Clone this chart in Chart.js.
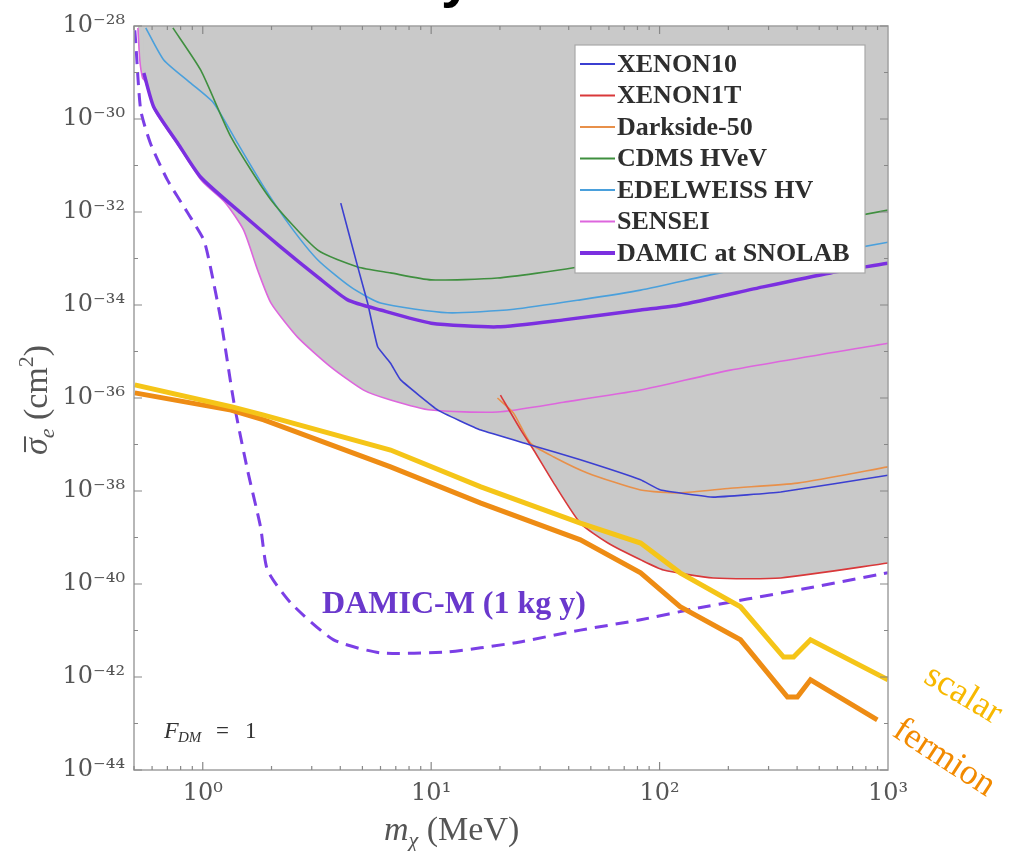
<!DOCTYPE html>
<html>
<head>
<meta charset="utf-8">
<script src="https://cdn.jsdelivr.net/npm/chart.js@4.4.1/dist/chart.umd.min.js"></script>
<style>
html,body{margin:0;padding:0;background:#fff;}
#wrap{position:relative;width:1009px;height:851px;}
</style>
</head>
<body>
<div id="wrap"><canvas id="c" width="1009" height="851"></canvas></div>
<script>
// --- data: dark matter mass (MeV) vs cross section (cm^2) ---
const xTicks = [1, 10, 100, 1000];
const yTicks = [1e-44, 1e-42, 1e-40, 1e-38, 1e-36, 1e-34, 1e-32, 1e-30, 1e-28];

const xenon10M = [4.02, 4.77, 5.27, 5.83, 6.64, 7.35, 10.7, 16.5, 27.2, 45, 82.6, 101, 172, 339, 1000];
const xenon10S = [1.55e-32, 6.6e-34, 1.1e-34, 1.26e-35, 5.6e-36, 2.45e-36, 5.5e-37, 2.04e-37, 9.8e-38, 4.68e-38, 1.74e-38, 1.05e-38, 7.4e-39, 9.5e-39, 2.19e-38];

const xenon1tM = [20.1, 24.7, 28.1, 34.4, 45, 59.4, 82.6, 104, 172, 339, 1000];
const xenon1tS = [1.15e-36, 2.04e-37, 7.6e-38, 1.48e-38, 2.04e-39, 7.6e-40, 3.31e-40, 2.0e-40, 1.35e-40, 1.35e-40, 2.82e-40];

const darksideM = [19.5, 22.9, 27.2, 34.4, 48.3, 82.6, 123, 204, 401, 1000];
const darksideS = [1.0e-36, 4.79e-37, 1.07e-37, 5.4e-38, 2.45e-38, 1.05e-38, 9.1e-39, 1.15e-38, 1.48e-38, 3.31e-38];

const cdmsM = [0.74, 0.98, 1.33, 1.99, 3.19, 4.77, 6.64, 10, 19.5, 42, 151, 1000];
const cdmsS = [9.1e-29, 1.12e-29, 4.07e-31, 1.82e-32, 1.51e-33, 6.6e-34, 4.9e-34, 3.47e-34, 3.8e-34, 6.3e-34, 1.95e-33, 1.1e-32];

const edelM = [0.563, 0.675, 0.886, 1.117, 1.42, 1.85, 2.43, 3.19, 4.44, 6.0, 11.8, 23, 45, 82.6, 184, 414, 1000];
const edelS = [9.1e-29, 1.86e-29, 5.9e-30, 2.19e-30, 3.02e-31, 3.47e-32, 4.79e-33, 9.3e-34, 2.45e-34, 1.1e-34, 6.8e-35, 8.1e-35, 1.29e-34, 2.09e-34, 4.9e-34, 1.02e-33, 2.24e-33];

const senseiM = [0.52, 0.53, 0.545, 0.56, 0.62, 0.79, 0.99, 1.26, 1.51, 1.74, 1.99, 2.60, 3.63, 5.06, 6.64, 10, 19.5, 38, 82.6, 204, 1000];
const senseiS = [9.1e-29, 1.86e-29, 7.6e-30, 6.5e-30, 1.45e-30, 2.5e-31, 4.7e-32, 1.55e-32, 4.07e-33, 5.6e-34, 1.1e-34, 2.04e-35, 4.68e-36, 1.48e-36, 9.1e-37, 5.5e-37, 5.0e-37, 8.1e-37, 1.48e-36, 3.98e-36, 1.51e-35];

const snolabM = [0.552, 0.61, 0.777, 0.98, 1.47, 2.19, 3.19, 4.31, 6.0, 10, 19.5, 38, 82.6, 123, 284, 560, 1000];
const snolabS = [9.8e-30, 1.82e-30, 3.02e-31, 5.6e-32, 9.5e-33, 1.78e-33, 3.98e-34, 1.29e-34, 7.8e-35, 4.07e-35, 3.39e-35, 4.79e-35, 7.8e-35, 1.0e-34, 2.45e-34, 4.9e-34, 7.9e-34];

const damicmM = [0.504, 0.509, 0.535, 0.59, 0.70, 0.86, 1.01, 1.08, 1.20, 1.37, 1.57, 1.79, 1.92, 2.43, 3.74, 6.0, 11.8, 23, 45, 82.6, 146, 401, 1000];
const damicmS = [8.1e-29, 4.27e-29, 1.55e-30, 3.02e-31, 4.9e-32, 9.5e-33, 2.51e-33, 6.6e-34, 4.79e-35, 7.8e-37, 2.82e-38, 1.7e-39, 2.0e-40, 3.89e-41, 6.3e-42, 3.31e-42, 3.47e-42, 5.4e-42, 1.02e-41, 1.7e-41, 3.02e-41, 7.4e-41, 1.74e-40];

const scalarM = [0.504, 1.33, 1.85, 6.64, 16.5, 45, 82.6, 123, 226, 349, 386, 458, 1000];
const scalarS = [1.91e-36, 6.5e-37, 4.27e-37, 7.6e-38, 1.23e-38, 2.04e-39, 7.6e-40, 1.74e-40, 3.24e-41, 2.69e-42, 2.69e-42, 6.3e-42, 8.7e-43];

const fermionM = [0.504, 1.33, 1.85, 6.64, 16.5, 45, 82.6, 123, 226, 363, 401, 458, 898];
const fermionS = [1.29e-36, 5.5e-37, 3.39e-37, 3.31e-38, 5.5e-39, 8.9e-40, 1.74e-40, 3.24e-41, 6.3e-42, 3.72e-43, 3.72e-43, 8.7e-43, 1.2e-43];

// --- styling ---
const SERIF = "'Liberation Serif', 'DejaVu Serif', serif";
const TICK_FONT = "'DejaVu Serif', serif";
const AXIS_COLOR = '#555';
const EXCLUDED = '#c9c9c9';
const SUP = '⁻⁰¹²³⁴⁵⁶⁷⁸⁹';
const sup = s => String(s).replace(/[-0-9]/g, c => SUP['-0123456789'.indexOf(c)]);
const decadeLabel = v => '10' + sup(Math.round(Math.log10(v)));

function curve(label, xs, ys, color, width, extra) {
  return Object.assign({
    label,
    data: xs.map((x, i) => ({ x, y: ys[i] })),
    borderColor: color,
    borderWidth: width,
    pointRadius: 0,
    tension: 0.2,
    fill: false,
    order: 5
  }, extra || {});
}

const excl = { fill: 'end', backgroundColor: EXCLUDED, inLegend: true };

const datasets = [
  curve('XENON10', xenon10M, xenon10S, '#3b3fd1', 1.6, { ...excl, tension: 0.1 }),
  curve('XENON1T', xenon1tM, xenon1tS, '#d9383a', 1.6, excl),
  curve('Darkside-50', darksideM, darksideS, '#e8904a', 1.6, excl),
  curve('CDMS HVeV', cdmsM, cdmsS, '#3f8f3f', 1.6, excl),
  curve('EDELWEISS HV', edelM, edelS, '#4aa0dc', 1.6, excl),
  curve('SENSEI', senseiM, senseiS, '#dd66dd', 1.6, excl),
  curve('DAMIC at SNOLAB', snolabM, snolabS, '#7b2fe0', 3.5, { ...excl, order: 3 }),
  curve('DAMIC-M (1 kg y)', damicmM, damicmS, '#7b3fe6', 3, { borderDash: [13, 8], order: 2 }),
  curve('fermion', fermionM, fermionS, '#ee8c14', 5, { tension: 0, order: 1 }),
  curve('scalar', scalarM, scalarS, '#f5c518', 5, { tension: 0, order: 0 })
];

// frame with inward ticks
const framePlugin = {
  id: 'frame',
  afterDatasetsDraw(chart) {
    const { ctx, chartArea: a, scales: { x, y } } = chart;
    ctx.save();
    ctx.strokeStyle = '#a0a0a0';
    ctx.lineWidth = 1.5;
    ctx.strokeRect(a.left, a.top, a.right - a.left, a.bottom - a.top);
    ctx.lineWidth = 1.2;
    ctx.strokeStyle = '#888';
    ctx.beginPath();
    [0.1, 1, 10, 100].forEach(d => {
      for (let k = 1; k <= 9; k++) {
        const v = k * d;
        if (v < 0.5 || v > 1000) continue;
        const px = x.getPixelForValue(v);
        const len = k === 1 ? 8 : 4;
        ctx.moveTo(px, a.bottom); ctx.lineTo(px, a.bottom - len);
        ctx.moveTo(px, a.top); ctx.lineTo(px, a.top + len);
      }
    });
    for (let e = -44; e <= -28; e++) {
      const py = y.getPixelForValue(Math.pow(10, e));
      const len = e % 2 === 0 ? 8 : 4;
      ctx.moveTo(a.left, py); ctx.lineTo(a.left + len, py);
      ctx.moveTo(a.right, py); ctx.lineTo(a.right - len, py);
    }
    ctx.stroke();
    ctx.restore();
  }
};

// legend box inside plot
const legendPlugin = {
  id: 'boxLegend',
  afterDraw(chart) {
    const ctx = chart.ctx;
    const items = chart.data.datasets.filter(d => d.inLegend);
    const bx = 575, by = 45, bw = 290, bh = 228;
    ctx.save();
    ctx.fillStyle = '#fff';
    ctx.fillRect(bx, by, bw, bh);
    ctx.strokeStyle = '#a8a8a8';
    ctx.lineWidth = 1.2;
    ctx.strokeRect(bx, by, bw, bh);
    ctx.font = 'bold 26px ' + SERIF;
    ctx.textBaseline = 'middle';
    items.forEach((d, i) => {
      const cy = by + 19 + i * 31.5;
      ctx.strokeStyle = d.borderColor;
      ctx.lineWidth = d.borderWidth > 3 ? 4 : 2;
      ctx.beginPath();
      ctx.moveTo(580, cy); ctx.lineTo(615, cy);
      ctx.stroke();
      ctx.fillStyle = '#2e2e2e';
      ctx.fillText(d.label, 617, cy + 1);
    });
    ctx.restore();
  }
};

// axis titles and annotations
const textPlugin = {
  id: 'texts',
  afterDraw(chart) {
    const ctx = chart.ctx;
    ctx.save();
    ctx.textBaseline = 'alphabetic';
    ctx.textAlign = 'left';

    // y title: sigma-bar_e (cm^2)
    ctx.save();
    ctx.translate(47, 400);
    ctx.rotate(-Math.PI / 2);
    ctx.fillStyle = AXIS_COLOR;
    const big = '34px ' + SERIF, small = '22px ' + SERIF;
    const parts = [
      ['σ', 'italic ' + big, 0],
      ['e', 'italic ' + small, 7],
      [' (cm', big, 0],
      ['2', small, -14],
      [')', big, 0]
    ];
    let total = 0;
    parts.forEach(p => { ctx.font = p[1]; total += ctx.measureText(p[0]).width; });
    let px = -total / 2;
    parts.forEach((p, i) => {
      ctx.font = p[1];
      const w = ctx.measureText(p[0]).width;
      ctx.fillText(p[0], px, p[2]);
      if (i === 0) {
        ctx.fillRect(px + 3, -23, w - 1, 2);
      }
      px += w;
    });
    ctx.restore();

    // x title: m_chi (MeV)
    ctx.fillStyle = AXIS_COLOR;
    let tx = 384;
    [['m', 'italic 34px ' + SERIF, 0], ['χ', 'italic 22px ' + SERIF, 7], [' (MeV)', '34px ' + SERIF, 0]].forEach(p => {
      ctx.font = p[1];
      ctx.fillText(p[0], tx, 840 + p[2]);
      tx += ctx.measureText(p[0]).width;
    });

    // F_DM = 1
    ctx.fillStyle = '#333';
    ctx.font = 'italic 24px ' + SERIF;
    ctx.fillText('F', 164, 738);
    ctx.font = 'italic 15px ' + SERIF;
    ctx.fillText('DM', 178, 742);
    ctx.font = '23px ' + SERIF;
    ctx.fillText('=', 216, 738);
    ctx.fillText('1', 245, 738);

    // DAMIC-M label
    ctx.fillStyle = '#6a38cc';
    ctx.font = 'bold 28px ' + SERIF;
    const lbl = 'DAMIC-M (1 kg y)';
    const sc = 263 / ctx.measureText(lbl).width;
    ctx.font = 'bold ' + Math.round(28 * sc) + 'px ' + SERIF;
    ctx.fillText(lbl, 322, 613);

    // scalar / fermion labels
    ctx.font = '36px ' + SERIF;
    ctx.textAlign = 'center';
    ctx.textBaseline = 'middle';
    ctx.save();
    ctx.translate(963, 695);
    ctx.rotate(31 * Math.PI / 180);
    ctx.fillStyle = '#f7b800';
    ctx.fillText('scalar', 0, 0);
    ctx.restore();
    ctx.save();
    ctx.translate(944, 758);
    ctx.rotate(33 * Math.PI / 180);
    ctx.fillStyle = '#f28a00';
    ctx.fillText('fermion', 0, 0);
    ctx.restore();

    // clipped title glyph at the top edge
    ctx.fillStyle = '#000';
    ctx.textAlign = 'left';
    ctx.textBaseline = 'alphabetic';
    ctx.font = 'bold 56px "Liberation Sans", Arial, sans-serif';
    ctx.fillText('y', 441, -4);
    ctx.restore();
  }
};

new Chart(document.getElementById('c'), {
  type: 'line',
  data: { datasets },
  options: {
    responsive: false,
    animation: false,
    layout: { padding: { top: 26, right: 121, left: 0, bottom: 0 } },
    plugins: {
      legend: { display: false },
      tooltip: { enabled: false },
      filler: { drawTime: 'beforeDatasetsDraw' }
    },
    scales: {
      x: {
        type: 'logarithmic',
        min: 0.5,
        max: 1000,
        grid: { display: false, drawTicks: false },
        border: { display: false },
        afterBuildTicks: s => { s.ticks = xTicks.map(v => ({ value: v })); },
        afterFit: s => { s.height = 81; },
        ticks: {
          callback: v => decadeLabel(v),
          color: AXIS_COLOR,
          font: { family: TICK_FONT, size: 24 },
          padding: 9,
          maxRotation: 0,
          autoSkip: false
        }
      },
      y: {
        type: 'logarithmic',
        min: 1e-44,
        max: 1e-28,
        grid: { display: false, drawTicks: false },
        border: { display: false },
        afterBuildTicks: s => { s.ticks = yTicks.map(v => ({ value: v })); },
        afterFit: s => { s.width = 134; },
        ticks: {
          callback: v => decadeLabel(v),
          color: AXIS_COLOR,
          font: { family: TICK_FONT, size: 24 },
          padding: 9,
          autoSkip: false
        }
      }
    }
  },
  plugins: [framePlugin, legendPlugin, textPlugin]
});
</script>
</body>
</html>
